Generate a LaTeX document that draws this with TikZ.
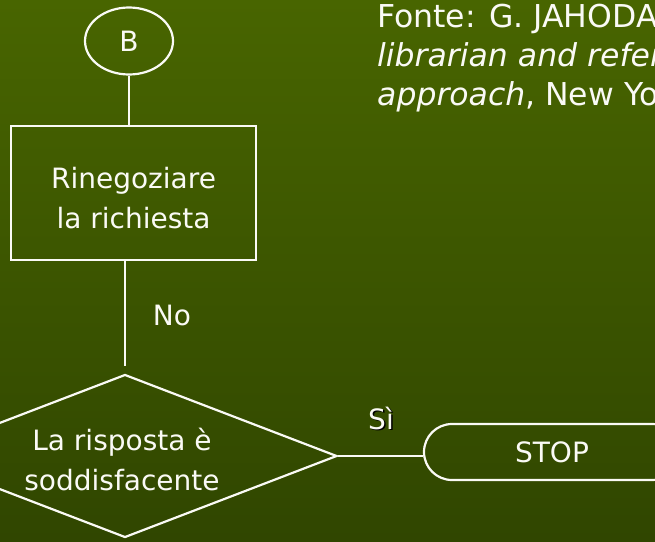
\documentclass[tikz,border=0pt]{standalone}
\usepackage{fontspec}
\setmainfont{DejaVu Sans}
\usetikzlibrary{shapes.geometric}
\definecolor{bgtop}{RGB}{72,101,0}
\definecolor{bgbot}{RGB}{48,70,0}
\definecolor{ink}{RGB}{250,250,245}
\tikzset{
  every node/.style={text=ink, font=\fontsize{28}{40}\selectfont},
  connector/.style={draw=ink, line width=2.2pt},
  boxtext/.style={align=center, inner sep=0pt},
  flowbox/.style={draw=ink, line width=2.2pt, inner sep=0pt,
    minimum width=245pt, minimum height=134pt},
  decision/.style={diamond, draw=ink, line width=2.2pt, inner sep=0pt,
    aspect=2.6, minimum width=424pt, minimum height=163pt},
  terminal/.style={draw=ink, line width=2.2pt, rounded corners=28pt,
    minimum width=256pt, minimum height=56pt},
  connpoint/.style={ellipse, draw=ink, line width=2.2pt, inner sep=0pt,
    minimum width=88pt, minimum height=67pt},
  srctext/.style={anchor=base west, inner sep=0pt, font=\fontsize{31.5}{39}\selectfont}
}
\begin{document}
\begin{tikzpicture}[x=1pt,y=-1pt]
\useasboundingbox (0,0) rectangle (655,541);
\clip (0,0) rectangle (655,541);
\shade[top color=bgtop,bottom color=bgbot] (0,0) rectangle (655,541);

\node[connpoint] (B) at (129,41) {B};
\node[flowbox] (reneg) at (133.5,193) {};
\node[boxtext] (renegtext) at ([yshift=-5pt]reneg.center) {Rinegoziare\\la richiesta};
\node[decision] (ok) at (125,456) {};
\node[boxtext] (oktext) at ([xshift=-3pt,yshift=-3pt]ok.center) {La risposta è\\soddisfacente};
\node[terminal] (stop) at (552,452) {STOP};

\draw[connector] (B.south) -- (B.south |- reneg.north);
\draw[connector, shorten >=7pt] (reneg.south -| ok.north) -- (ok.north);
\draw[connector] (ok.east) -- (ok.east -| stop.west);

\node (no) at (172,315) {No};
\node[black] (sishadow) at (382.5,419.5) {Sì};
\node (si) at (381,418) {Sì};

\node[srctext] (src1) at (377,27) {Fonte: G. JAHODA -- P. E. BRACCIA, \textit{The}};
\node[srctext] (src2) at ([yshift=-39pt]src1.base west) {\textit{librarian and reference queries: a systematic}};
\node[srctext] (src3) at ([yshift=-39pt]src2.base west) {\textit{approach}, New York, Academic Press, 1980};

\end{tikzpicture}
\end{document}
